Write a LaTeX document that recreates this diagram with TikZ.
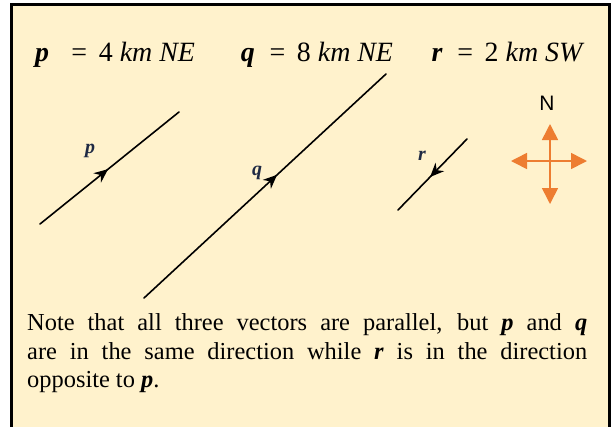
\documentclass[tikz,border=0pt]{standalone}
\usepackage{fontspec}
\setmainfont{Liberation Serif}
\newfontfamily\compassfont{Liberation Sans}
\usepackage{tikz}
\usetikzlibrary{arrows.meta,positioning,decorations.markings}
\definecolor{creme}{HTML}{FFF2CC}
\definecolor{orangenord}{HTML}{ED7D31}
\definecolor{bleuvec}{HTML}{1F2A44}

\begin{document}
\begin{tikzpicture}[x=1bp, y=-1bp,
  vecline/.style={line width=1.6bp, line cap=round,
    postaction={decorate, decoration={markings,
      mark=at position #1 with {\arrow{Stealth[length=14bp,width=12bp,inset=4.5bp]}}}}},
  veclabel/.style={font=\fontsize{20}{20}\selectfont\bfseries\itshape, text=bleuvec},
  eqtext/.style={anchor=base, font=\fontsize{28}{28}\selectfont},
  compass/.style={draw=orangenord, line width=1.6bp, {Triangle[length=16bp,width=16bp]}-{Triangle[length=16bp,width=16bp]}}
]
\useasboundingbox (0,0) rectangle (612,426);
\clip (0,0) rectangle (612,426);
\draw[fill=creme, line width=3bp] (11,4) rectangle (609,440);

% equations on top
\node[eqtext] (eqp) at (115,61) {\textbf{\textit{p}}\;\; = \,4 \textit{km NE}};
\node[eqtext] (eqq) at (317,61) {\textbf{\textit{q}}\; = \,8 \textit{km NE}};
\node[eqtext] (eqr) at (508,61) {\textbf{\textit{r}}\; = \,2 \textit{km SW}};

% the three vectors
\coordinate (p0) at (40,224);
\coordinate (p1) at (179,112);
\coordinate (q0) at (144,298);
\coordinate (q1) at (386,74);
\coordinate (r0) at (467,139);
\coordinate (r1) at (398,210);
\draw[vecline=0.49] (p0) -- (p1);
\draw[vecline=0.55] (q0) -- (q1);
\draw[vecline=0.536] (r0) -- (r1);
\node[veclabel] (lp) at (90,151) {p};
\node[veclabel] (lq) at (257,173) {q};
\node[veclabel] (lr) at (422,156) {r};

% compass
\coordinate (cs) at (550,204);
\coordinate (cn) at (550,124);
\coordinate (cw) at (511,161);
\coordinate (ce) at (587,161);
\draw[compass] (cs) -- (cn);
\draw[compass] (cw) -- (ce);
\node[font=\compassfont\fontsize{21}{21}\selectfont] (north) at (547,103) {N};

% note
\node[anchor=north west, inner sep=0pt, text width=560bp, align=justify,
  font=\fontsize{24.5}{29}\selectfont] (note) at (27,313)
  {Note that all three vectors are parallel, but \textbf{\textit{p}} and \textbf{\textit{q}}\linebreak are in the same direction while \textbf{\textit{r}} is in the direction\linebreak opposite to \textbf{\textit{p}}.};
\end{tikzpicture}
\end{document}
